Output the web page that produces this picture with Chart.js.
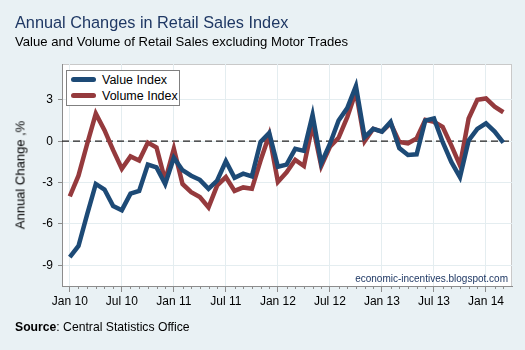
<!DOCTYPE html>
<html>
<head>
<meta charset="utf-8">
<script src="https://cdn.jsdelivr.net/npm/chart.js@4"></script>
<style>
  body { margin: 0; background: #e9f1f4; font-family: "Liberation Sans", Arial, sans-serif; }
  #wrap { position: relative; width: 525px; height: 350px; overflow: hidden; }
  #chart { position: absolute; left: 0; top: 0; }
  .txt { position: absolute; white-space: nowrap; }
  #title { left: 15px; top: 13px; font-size: 16.3px; color: #1f3864; }
  #subtitle { left: 15px; top: 34px; font-size: 13.1px; color: #000; }
  #ytitle { left: 20px; top: 175px; font-size: 13px; color: #000; transform: translate(-50%, -50%) rotate(-90deg); }
  #source { left: 15px; top: 320px; font-size: 12.2px; color: #000; }
  #credit { right: 17px; top: 273px; font-size: 10px; color: #1f3864; }
  #legend { position: absolute; left: 66px; top: 70px; width: 112px; height: 34px; border: 1px solid #808080; background: #fff; font-size: 12.5px; }
  .row { position: absolute; left: 4px; height: 16px; line-height: 16px; }
  .swatch { display: inline-block; width: 25px; height: 5px; border-radius: 3px; vertical-align: middle; margin-right: 6px; position: relative; top: -1px; }
</style>
</head>
<body>
<div id="wrap">
  <canvas id="chart" width="525" height="350"></canvas>
  <div class="txt" id="title">Annual Changes in Retail Sales Index</div>
  <div class="txt" id="subtitle">Value and Volume of Retail Sales excluding Motor Trades</div>
  <div class="txt" id="ytitle">Annual Change ,%</div>
  <div class="txt" id="credit">economic-incentives.blogspot.com</div>
  <div class="txt" id="source"><b>Source</b>: Central Statistics Office</div>
  <div id="legend">
    <div class="row" style="top:1px"><span class="swatch" style="background:#1d4a76"></span>Value Index</div>
    <div class="row" style="top:17px"><span class="swatch" style="background:#953a3d"></span>Volume Index</div>
  </div>
</div>
<script>
// Monthly data, Jan 2010 - Mar 2014
const months = [
    'Jan 10','Feb 10','Mar 10','Apr 10','May 10','Jun 10','Jul 10','Aug 10','Sep 10','Oct 10','Nov 10','Dec 10',
    'Jan 11','Feb 11','Mar 11','Apr 11','May 11','Jun 11','Jul 11','Aug 11','Sep 11','Oct 11','Nov 11','Dec 11',
    'Jan 12','Feb 12','Mar 12','Apr 12','May 12','Jun 12','Jul 12','Aug 12','Sep 12','Oct 12','Nov 12','Dec 12',
    'Jan 13','Feb 13','Mar 13','Apr 13','May 13','Jun 13','Jul 13','Aug 13','Sep 13','Oct 13','Nov 13','Dec 13',
    'Jan 14','Feb 14','Mar 14'
];
const valueIndex = [
    -8.4, -7.6, -5.3, -3.1, -3.5, -4.7, -5.0, -3.8, -3.6, -1.7, -1.9, -3.1,
    -1.2, -2.1, -2.5, -2.8, -3.45, -2.85, -1.45, -2.65, -2.35, -2.55, -0.05, 0.6,
    -1.85, -1.7, -0.55, -0.7, 1.9, -1.6, -0.2, 1.5, 2.4, 4.0, 0.3, 0.9,
    0.7, 1.4, -0.5, -1.0, -0.95, 1.5, 1.65, -0.05, -1.5, -2.6, 0.05, 0.9,
    1.3, 0.7, -0.1
];
const volumeIndex = [
    -4.0, -2.5, -0.2, 2.0, 0.8, -0.65, -2.0, -1.1, -1.4, -0.1, -0.45, -2.85,
    -0.55, -3.1, -3.7, -4.05, -4.8, -3.2, -2.6, -3.6, -3.35, -3.45, -1.4, 0.45,
    -2.95, -2.25, -1.35, -1.8, 1.2, -1.8, -0.4, 0.25, 1.75, 3.6, 0.0, 0.9,
    0.7, 1.3, -0.05, -0.15, 0.2, 1.55, 1.4, 1.05, -0.3, -1.75, 1.65, 3.0,
    3.1, 2.5, 2.1
];
const tickLabels = ['Jan 10','Jul 10','Jan 11','Jul 11','Jan 12','Jul 12','Jan 13','Jul 13','Jan 14'];
const yTicks = [-9, -6, -3, 0, 3];

const gridColor = '#e4edf0';
const axisColor = '#8c8c8c';

// white plot area, frame, zero line and minor month ticks
const plotDecor = {
    id: 'plotDecor',
    beforeDatasetsDraw(chart) {
        const { ctx, chartArea: a, scales } = chart;
        ctx.save();
        const y0 = scales.y.getPixelForValue(0);
        ctx.strokeStyle = '#222';
        ctx.lineWidth = 1.3;
        ctx.setLineDash([7, 4]);
        ctx.beginPath();
        ctx.moveTo(a.left, y0);
        ctx.lineTo(a.right, y0);
        ctx.stroke();
        ctx.restore();
    },
    beforeDraw(chart) {
        const { ctx, chartArea: a } = chart;
        ctx.save();
        ctx.fillStyle = '#fff';
        ctx.fillRect(a.left, a.top, a.right - a.left, a.bottom - a.top);
        ctx.strokeStyle = '#c9c9c9';
        ctx.lineWidth = 1;
        ctx.strokeRect(a.left + 0.5, a.top + 0.5, a.right - a.left - 1, a.bottom - a.top);
        ctx.restore();
    },
    afterDraw(chart) {
        const { ctx, chartArea: a, scales } = chart;
        ctx.save();
        ctx.strokeStyle = axisColor;
        ctx.lineWidth = 1;
        months.forEach((m, i) => {
            if (i % 6 === 0) return;
            const x = Math.round(scales.x.getPixelForValue(i)) + 0.5;
            ctx.beginPath();
            ctx.moveTo(x, a.bottom);
            ctx.lineTo(x, a.bottom + 3);
            ctx.stroke();
        });
        ctx.restore();
    }
};

const ctx = document.getElementById('chart').getContext('2d');
const chart = new Chart(ctx, {
    type: 'line',
    data: {
        datasets: [
            { label: 'Value Index', data: valueIndex.map((v, i) => ({ x: i, y: v })), borderColor: '#1d4a76', borderWidth: 4.5, pointRadius: 0, tension: 0 },
            { label: 'Volume Index', data: volumeIndex.map((v, i) => ({ x: i, y: v })), borderColor: '#953a3d', borderWidth: 4.5, pointRadius: 0, tension: 0 }
        ]
    },
    options: {
        responsive: false,
        animation: false,
        layout: { padding: { left: 0, top: 64, right: 13, bottom: 0 } },
        plugins: { legend: { display: false }, tooltip: { enabled: false } },
        scales: {
            x: {
                type: 'linear',
                min: -0.9,
                max: 51,
                afterFit: (s) => { s.height = 64; },
                afterBuildTicks: (s) => { s.ticks = months.map((m, i) => ({ value: i })); },
                ticks: {
                    autoSkip: false,
                    maxRotation: 0,
                    padding: 2,
                    color: '#000',
                    font: { family: 'Liberation Sans', size: 12 },
                    callback: (v) => (v % 6 === 0 ? tickLabels[v / 6] : '')
                },
                grid: {
                    color: (c) => (c.tick && c.tick.value % 6 === 0 ? gridColor : 'rgba(0,0,0,0)'),
                    tickColor: (c) => (c.tick && c.tick.value % 6 === 0 ? axisColor : 'rgba(0,0,0,0)'),
                    tickLength: 6
                },
                border: { color: axisColor }
            },
            y: {
                min: -10.5,
                max: 5.6,
                afterFit: (s) => { s.width = 62; },
                afterBuildTicks: (s) => { s.ticks = yTicks.map(v => ({ value: v })); },
                ticks: {
                    padding: 5,
                    color: '#000',
                    font: { family: 'Liberation Sans', size: 12 }
                },
                grid: { color: gridColor, tickColor: axisColor, tickLength: 4 },
                border: { color: axisColor }
            }
        }
    },
    plugins: [plotDecor]
});
</script>
</body>
</html>
